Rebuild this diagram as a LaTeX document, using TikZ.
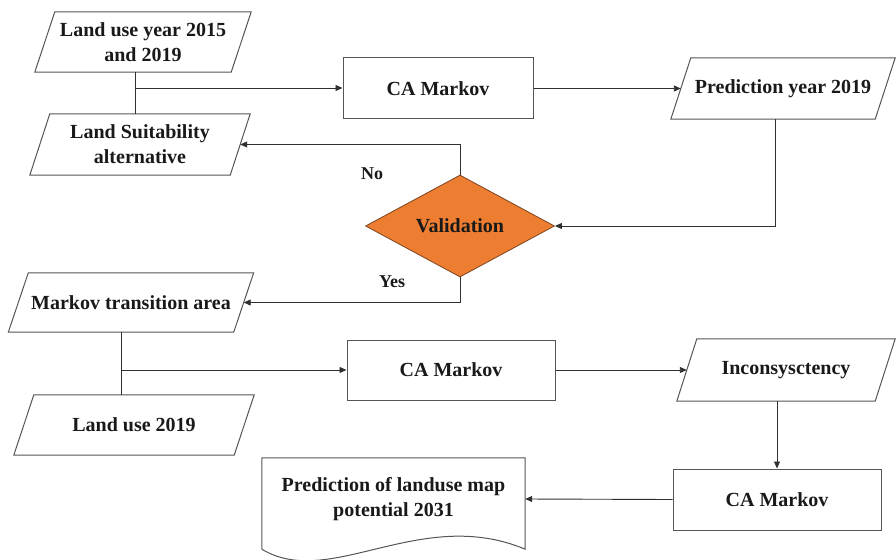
\documentclass[tikz,border=0pt]{standalone}
\usepackage{fontspec}
\setmainfont{Liberation Serif}
\usetikzlibrary{shapes.geometric,arrows.meta}
\definecolor{lineg}{HTML}{303030}
\definecolor{shapeg}{HTML}{555555}
\definecolor{valor}{HTML}{ED7D31}
\definecolor{valedge}{HTML}{7A4420}
\newcommand\mypara[1]{\draw[shapeline] ([xshift=10pt]#1.north west) -- ([xshift=10pt]#1.north east) -- ([xshift=-10pt]#1.south east) -- ([xshift=-10pt]#1.south west) -- cycle;}
\begin{document}
\begin{tikzpicture}[x=1pt,y=-1pt,
  txt/.style={font=\bfseries\fontsize{20}{25}\selectfont, text=black!90, align=center, inner sep=0pt},
  shapeline/.style={draw=shapeg, line width=1pt},
  boxnode/.style={txt, rectangle, shapeline},
  conn/.style={draw=lineg, line width=0.9pt},
  arr/.style={conn, -{Triangle[length=7pt,width=6pt]}},
  lbl/.style={font=\bfseries\fontsize{18}{22}\selectfont, text=black!90, inner sep=0pt}]
\useasboundingbox (0,0) rectangle (896,559);
% parallelogram nodes
\node[txt, minimum width=196pt, minimum height=60pt] (lu1) at (143,42) {Land use year 2015\\and 2019};
\node[txt, minimum width=200pt, minimum height=61pt] (ls) at (140,144.5) {Land Suitability\\alternative};
\node[txt, minimum width=204pt, minimum height=61pt] (pred) at (783,88.5) {Prediction year 2019};
\node[txt, minimum width=225pt, minimum height=59pt] (mta) at (131,302.5) {Markov transition area};
\node[txt, minimum width=220pt, minimum height=60pt] (lu19) at (134,425) {Land use 2019};
\node[txt, minimum width=198pt, minimum height=62pt] (inc) at (786,370) {Inconsysctency};
\mypara{lu1}
\mypara{ls}
\mypara{pred}
\mypara{mta}
\mypara{lu19}
\mypara{inc}
% boxes
\node[boxnode, minimum width=190pt, minimum height=61pt] (cam1) at (438,88.5) {CA Markov};
\node[boxnode, minimum width=208pt, minimum height=60pt] (cam2) at (451,370) {CA Markov};
\node[boxnode, minimum width=208pt, minimum height=61pt] (cam3) at (777,499.5) {CA Markov};
% diamond
\node[txt, diamond, aspect=1.85, minimum width=189pt, minimum height=102pt, fill=valor, draw=valedge, line width=0.8pt] (val) at (460,226) {Validation};
% document
\node[txt, minimum width=263pt, minimum height=82pt] (doc) at (393.5,499) {Prediction of landuse map\\potential 2031};
\draw[shapeline] ([yshift=-9pt]doc.south west) -- (doc.north west) -- (doc.north east) -- ([yshift=-9pt]doc.south east)
  .. controls +(-105,-44) and +(68,41) .. ([yshift=-9pt]doc.south west);
% connectors
\coordinate (j1) at (135,88);
\draw[conn] (j1 |- lu1.south) -- (j1 |- ls.north);
\draw[arr] (j1) -- (j1 -| cam1.west);
\draw[arr] (cam1.east) -- (pred.west);
\coordinate (p1) at (775,0);
\draw[arr] (p1 |- pred.south) |- (val.east);
\draw[arr] (val.north) |- (ls.east);
\draw[arr] (val.south) |- (mta.east);
\node[lbl] (no) at (372,174) {No};
\node[lbl] (yes) at (392,282) {Yes};
\coordinate (j2) at (121,370);
\draw[conn] (j2 |- mta.south) -- (j2 |- lu19.north);
\draw[arr] (j2) -- (j2 -| cam2.west);
\draw[arr] (cam2.east) -- (inc.west);
\draw[arr] (cam3.north |- inc.south) -- (cam3.north);
\draw[arr] (cam3.west) -- (doc.east);
\end{tikzpicture}
\end{document}
